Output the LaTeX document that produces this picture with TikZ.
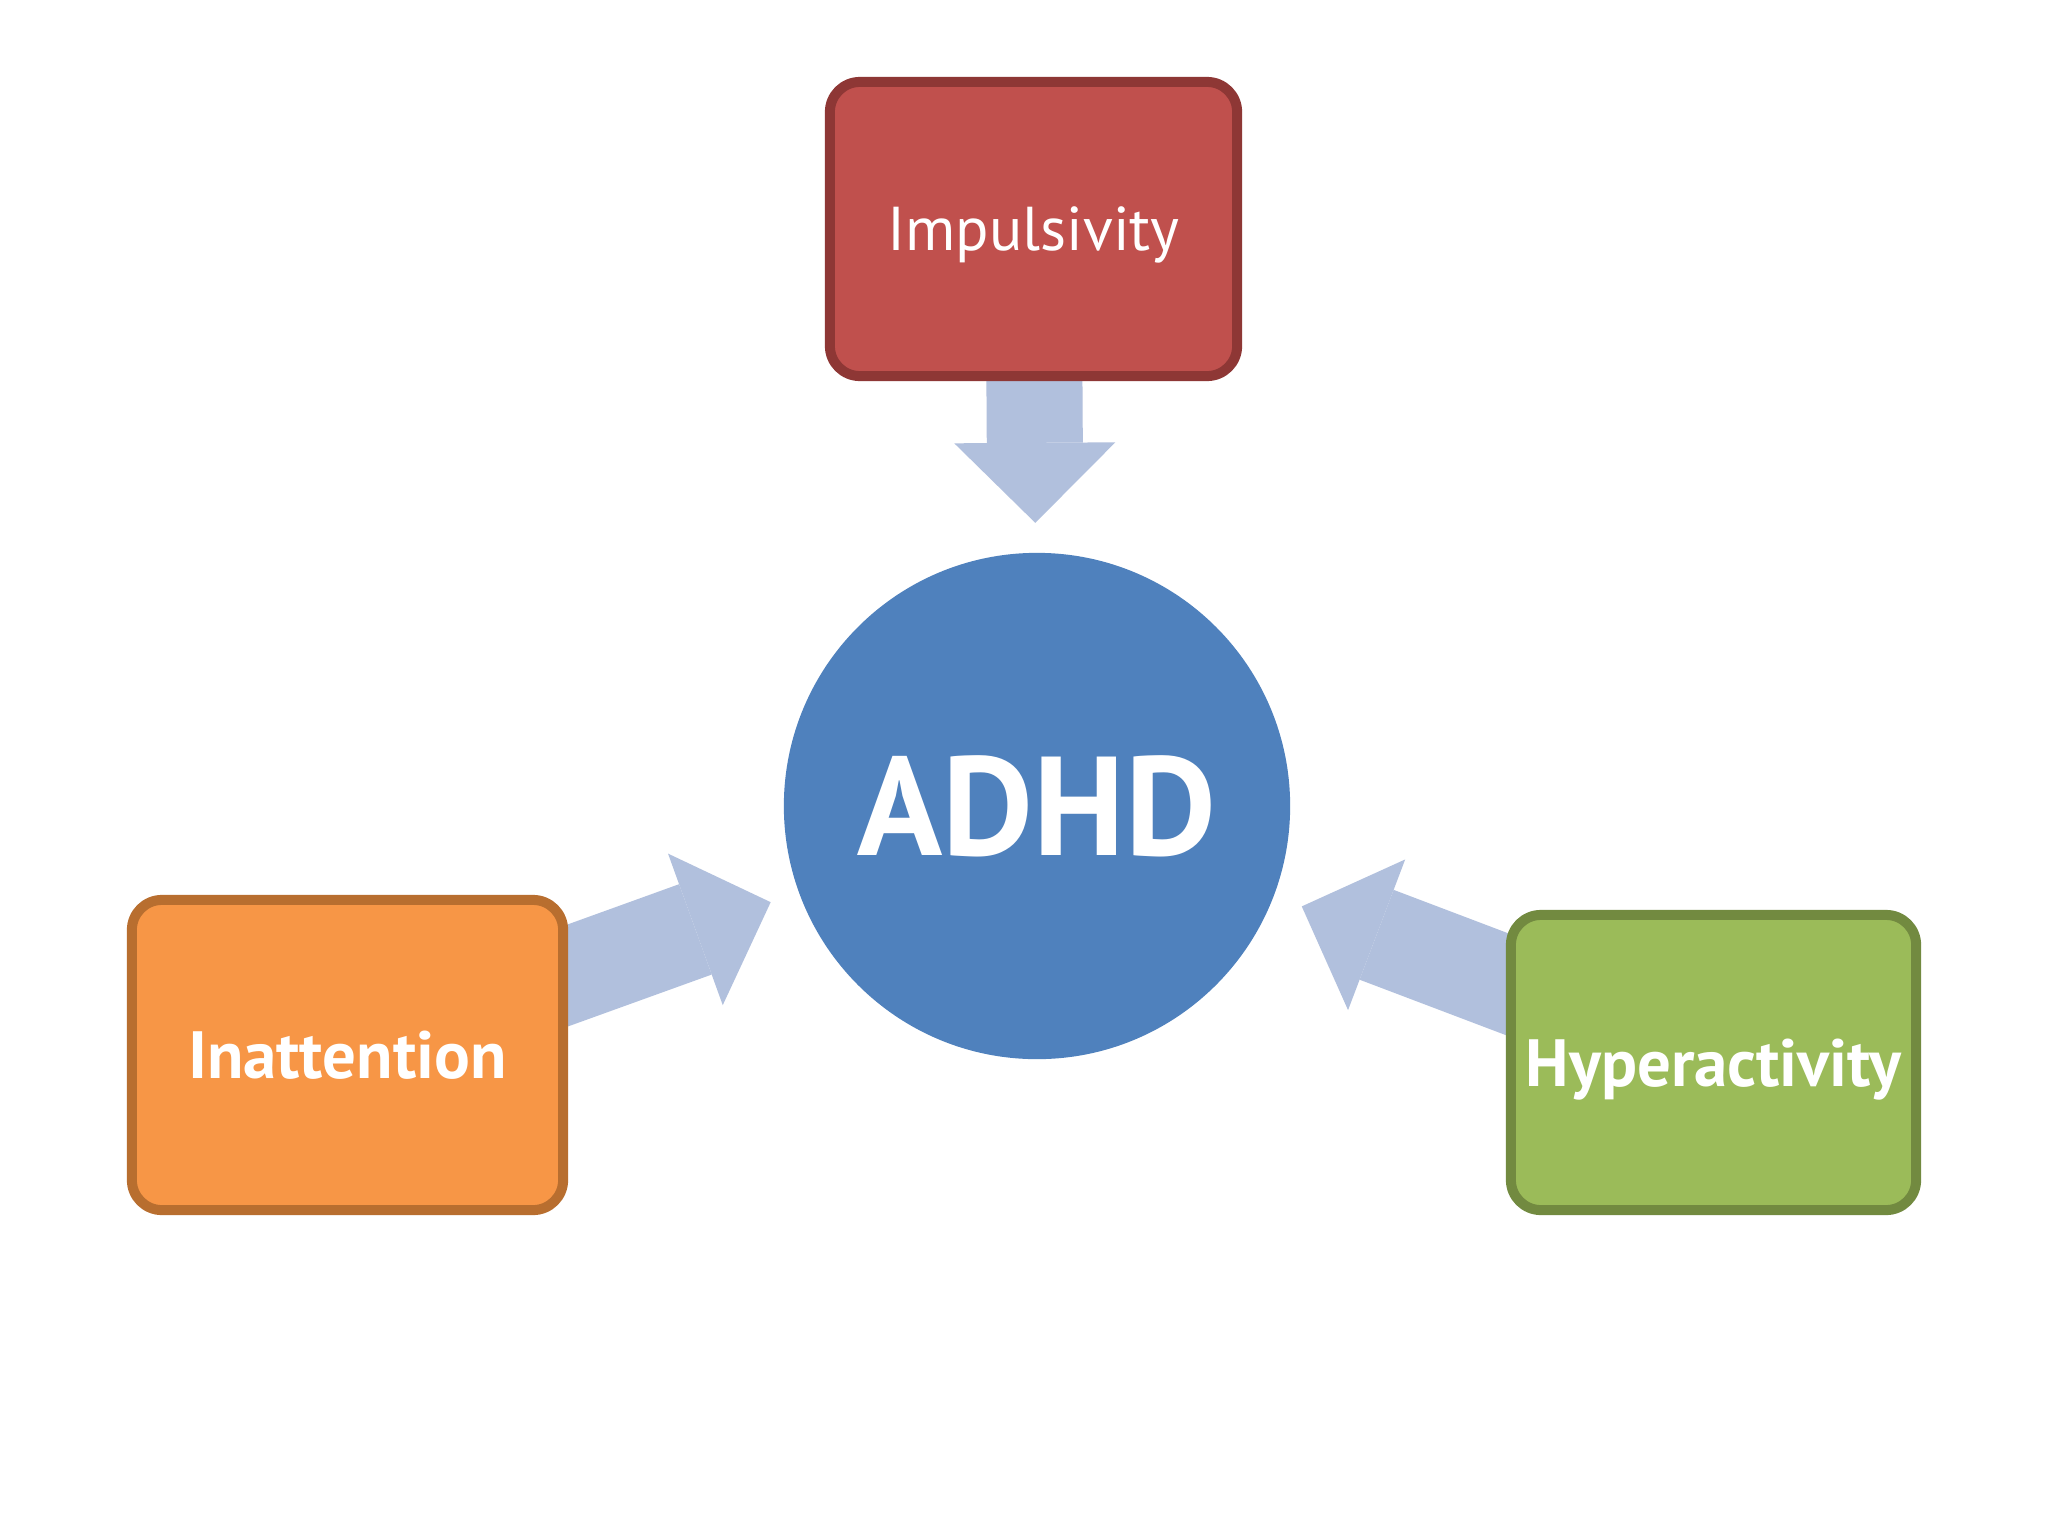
\documentclass[tikz,border=0pt]{standalone}
\usepackage{fontspec}
\setmainfont{PT Sans}
\usepackage{tikz}
\usetikzlibrary{arrows.meta,backgrounds}

\definecolor{impred}{HTML}{C0504D}
\definecolor{impline}{HTML}{8E3735}
\definecolor{inatorange}{HTML}{F79646}
\definecolor{inatline}{HTML}{B86E2F}
\definecolor{hypgreen}{HTML}{9BBB59}
\definecolor{hypline}{HTML}{728A40}
\definecolor{adhdblue}{HTML}{4F81BD}
\definecolor{flowblue}{HTML}{B1C0DD}

\begin{document}
\begin{tikzpicture}[x=0.01cm,y=-0.01cm,
  symptom/.style={rectangle,rounded corners=0.3cm,line width=0.1cm,inner sep=0pt,
    text=white,text depth=0pt,font=\fontsize{19}{22}\selectfont\bfseries},
  flow/.style={draw=flowblue,line width=0.96cm,shorten >=0.3cm,
    -{Triangle[length=0.8cm,width=1.61cm,line width=0pt,fill=flowblue]}}]
\useasboundingbox (0,0) rectangle (2048,1536);
% the three groups of symptoms
\node[symptom,fill=impred,draw=impline,minimum width=4.07cm,minimum height=2.94cm,
  font=\fontsize{17.6}{22}\selectfont] (imp) at (1033.5,229) {Impulsivity};
\node[symptom,fill=inatorange,draw=inatline,minimum width=4.31cm,minimum height=3.1cm]
  (inat) at (347.5,1055) {Inattention};
\node[symptom,fill=hypgreen,draw=hypline,minimum width=4.05cm,minimum height=2.95cm]
  (hyp) at (1713.5,1062.5) {Hyperactivity};
% the disorder
\node[circle,fill=adhdblue,minimum size=5.06cm,inner sep=0pt,outer sep=0pt,text=white,
  text depth=0pt,font=\fontsize{40}{44}\selectfont\bfseries] (adhd) at (1037,806) {ADHD};
\begin{scope}[on background layer]
\fill[white] (0,0) rectangle (2048,1536);
\draw[flow] (imp.center) -- (adhd);
\draw[flow] (inat.center) -- (adhd);
\draw[flow] (hyp.center) -- (adhd);
\end{scope}
\end{tikzpicture}
\end{document}
